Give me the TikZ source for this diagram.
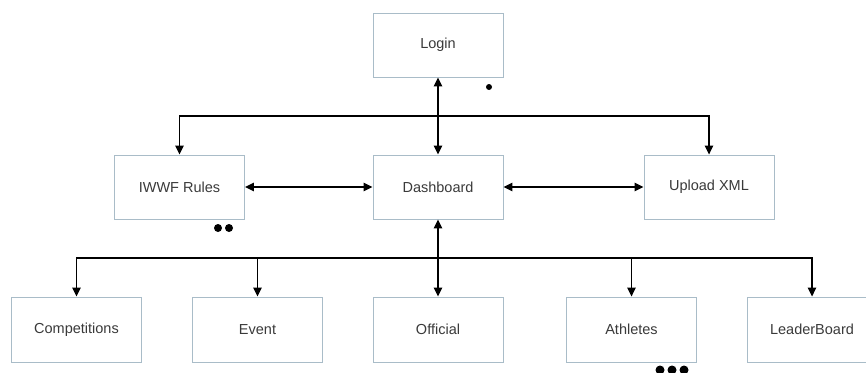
\documentclass[tikz,border=0pt]{standalone}
\usepackage{fontspec}
\setmainfont{Liberation Sans}
\usetikzlibrary{arrows.meta}
\definecolor{boxline}{HTML}{A9BCC8}
\definecolor{txt}{HTML}{3A3A3A}
\tikzset{
  box/.style={draw=boxline, line width=0.9pt, fill=white, minimum width=130pt, minimum height=64pt, inner sep=0pt, text=txt, font=\fontsize{14.5pt}{16pt}\selectfont},
  conn/.style={draw=black, line width=1.4pt, -{Triangle[length=9pt,width=8.5pt]}},
  biconn/.style={draw=black, line width=1.4pt, {Triangle[length=9pt,width=8.5pt]}-{Triangle[length=9pt,width=8.5pt]}},
  blob/.style={fill=black, circle, inner sep=0pt}
}
\begin{document}
\begin{tikzpicture}[x=1pt,y=-1pt]
\useasboundingbox (0,0) rectangle (866,372);
\clip (0,0) rectangle (866,372);
\fill[white] (0,0) rectangle (866,372);
% nodes
\node[box] (login) at (438,45) {Login};
\node[box] (iwwf) at (179.5,187) {IWWF Rules};
\node[box] (dash) at (438,187) {Dashboard};
\node[box] (upl) at (709,187) {Upload XML};
\node[box, minimum height=65pt] (comp) at (76.5,329.5) {Competitions};
\node[box, minimum height=65pt] (event) at (257.5,329.5) {Event};
\node[box, minimum height=65pt] (off) at (438,329.5) {Official};
\node[box, minimum height=65pt] (ath) at (631.5,329.5) {Athletes};
\node[box, minimum height=65pt] (lead) at (812,329.5) {LeaderBoard};
% hubs
\coordinate (hubtop) at (438,116);
\coordinate (hubbot) at (438,258);
% connectors
\draw[biconn] (login.south) -- (dash.north);
\draw[conn] (hubtop) -| (iwwf.north);
\draw[conn] (hubtop) -| (upl.north);
\draw[biconn] (iwwf.east) -- (dash.west);
\draw[biconn] (dash.east) -- (upl.west);
\draw[biconn] (dash.south) -- (off.north);
\draw[conn] (hubbot) -| (comp.north);
\draw[conn] (hubbot) -| (event.north);
\draw[conn] (hubbot) -| (ath.north);
\draw[conn] (hubbot) -| (lead.north);
% dots
\node[blob, minimum size=6pt] (d1) at (489,87) {};
\node[blob, minimum size=8pt] (d2) at (218,228) {};
\node[blob, minimum size=8pt] (d3) at (229,228) {};
\node[blob, minimum size=9pt] (d4) at (660,370) {};
\node[blob, minimum size=9pt] (d5) at (672,370) {};
\node[blob, minimum size=9pt] (d6) at (684,370) {};
\end{tikzpicture}
\end{document}
